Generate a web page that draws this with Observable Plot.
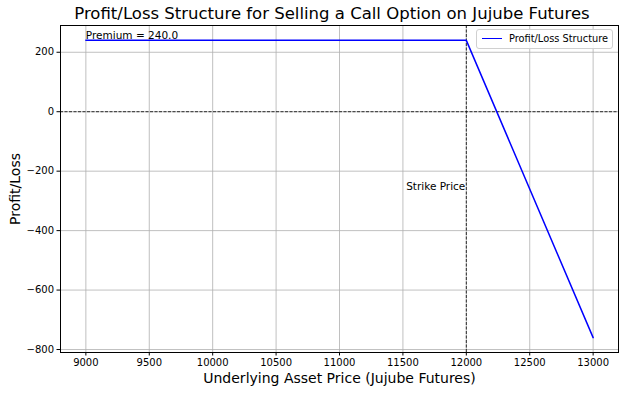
<!DOCTYPE html>
<html><head><meta charset="utf-8">
<script src="https://cdn.jsdelivr.net/npm/d3@7"></script>
<script src="https://cdn.jsdelivr.net/npm/@observablehq/plot@0.6"></script>
<style>
body{margin:0;background:#fff;font-family:"DejaVu Sans",sans-serif;}
#wrap{position:relative;width:624px;height:393px;overflow:hidden;}
#title{position:absolute;left:40px;top:3px;width:584px;height:22px;line-height:22px;text-align:center;font-size:16.5px;color:#000;white-space:nowrap;}
#chart{position:absolute;left:0;top:22px;}
#legend{position:absolute;left:476px;top:29px;width:137px;height:20px;border:1px solid #d0d0d0;border-radius:3px;background:rgba(255,255,255,0.85);box-sizing:border-box;}
#legend .sw{position:absolute;left:5px;top:8px;width:20px;height:0;border-top:1.5px solid #0000ff;}
#legend .lb{position:absolute;left:32px;top:0;line-height:18px;font-size:9.8px;color:#000;white-space:nowrap;}
</style></head>
<body>
<div id="wrap">
  <div id="title">Profit/Loss Structure for Selling a Call Option on Jujube Futures</div>
  <div id="chart"></div>
  <div id="legend"><div class="sw"></div><div class="lb">Profit/Loss Structure</div></div>
</div>
<script>
const prices = [9000, 12000, 13000];
const profit = [240, 240, -760];
const strike = 12000;
const premium = 240;
const xTicks = [9000, 9500, 10000, 10500, 11000, 11500, 12000, 12500, 13000];
const yTicks = [-800, -600, -400, -200, 0, 200];
const xDomain = [8800, 13200];
const yDomain = [-810, 290];
const strikeLabelY = -265;

const data = prices.map((p, i) => ({price: p, pl: profit[i]}));

const chart = Plot.plot({
  width: 624,
  height: 371,
  marginLeft: 60,
  marginRight: 6,
  marginTop: 3,
  marginBottom: 41,
  style: {fontFamily: "DejaVu Sans, sans-serif", fontSize: "10px", color: "#000", background: "transparent"},
  x: {domain: xDomain, ticks: xTicks, label: null},
  y: {domain: yDomain, ticks: yTicks, label: null},
  marks: [
    Plot.gridX(xTicks, {stroke: "#b0b0b0", strokeOpacity: 1, strokeWidth: 0.8}),
    Plot.gridY(yTicks, {stroke: "#b0b0b0", strokeOpacity: 1, strokeWidth: 0.8}),
    Plot.ruleY([0], {stroke: "#000", strokeWidth: 0.8, strokeDasharray: "3,1.5"}),
    Plot.ruleX([strike], {stroke: "#000", strokeWidth: 0.8, strokeDasharray: "3,1.5"}),
    Plot.line(data, {x: "price", y: "pl", stroke: "#0000ff", strokeWidth: 1.5}),
    Plot.text([{x: prices[0], y: premium}], {x: "x", y: "y", text: () => `Premium = ${premium.toFixed(1)}`, textAnchor: "start", lineAnchor: "bottom", dy: -1, fontSize: 10.5, fill: "#000"}),
    Plot.text([{x: strike, y: strikeLabelY}], {x: "x", y: "y", text: () => "Strike Price", textAnchor: "end", lineAnchor: "bottom", dx: -1, fontSize: 10.5, fill: "#000"}),
    Plot.frame({stroke: "#000", strokeWidth: 1}),
    Plot.axisX(xTicks, {tickSize: 3.5, tickPadding: 3, fontSize: 10, tickFormat: d => String(d)}),
    Plot.axisY(yTicks, {tickSize: 3.5, tickPadding: 3, fontSize: 10}),
    Plot.text(["Underlying Asset Price (Jujube Futures)"], {frameAnchor: "bottom", lineAnchor: "middle", textAnchor: "middle", dy: 26, fontSize: 14, fill: "#000"}),
    Plot.text(["Profit/Loss"], {frameAnchor: "left", textAnchor: "middle", lineAnchor: "middle", rotate: -90, dx: -45, fontSize: 14, fill: "#000"})
  ]
});
document.getElementById("chart").appendChild(chart);
</script>
</body></html>
